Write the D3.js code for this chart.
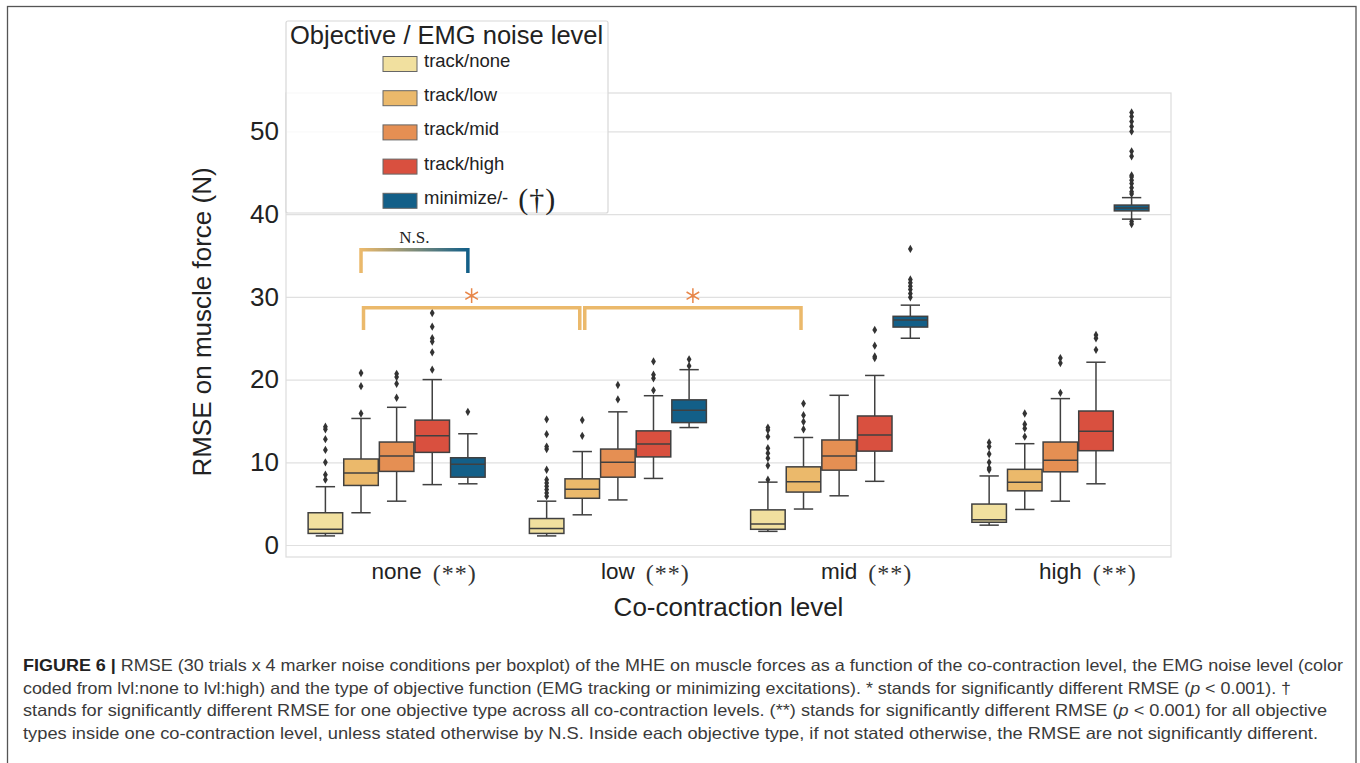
<!DOCTYPE html>
<html>
<head>
<meta charset="utf-8">
<script src="https://cdn.jsdelivr.net/npm/d3@7"></script>
<style>
  body { margin: 0; background: #fff; }
  svg { display: block; font-family: "Liberation Sans", Arial, sans-serif; }
</style>
</head>
<body>
<svg id="chart" width="1360" height="763"></svg>
<script>
// ---- data ----
const levels = ["none", "low", "mid", "high"];
const series = ["track/none", "track/low", "track/mid", "track/high", "minimize/-"];
const colors = ["#f1e09f", "#ebb96b", "#e58f53", "#d9503f", "#135f88"];
const yTicks = [0, 10, 20, 30, 40, 50];

// [lower whisker, q1, median, q3, upper whisker] for none / low / mid / high
const trackNoneBox = [[1.1, 1.4, 1.9, 3.9, 7.05], [1.1, 1.4, 2.0, 3.2, 5.3], [1.65, 1.9, 2.55, 4.25, 7.6], [2.4, 2.75, 3.05, 4.95, 8.35]];
const trackLowBox = [[3.9, 7.2, 8.7, 10.4, 15.3], [3.65, 5.65, 6.75, 8.0, 11.3], [4.35, 6.4, 7.65, 9.45, 13.0], [4.3, 6.55, 7.6, 9.15, 12.25]];
const trackMidBox = [[5.3, 8.9, 10.75, 12.45, 16.65], [5.45, 8.2, 10.0, 11.6, 16.1], [5.95, 9.05, 10.75, 12.7, 18.1], [5.3, 8.85, 10.25, 12.45, 17.7]];
const trackHighBox = [[7.3, 11.2, 13.2, 15.1, 20.0], [8.05, 10.65, 12.2, 13.8, 18.05], [7.7, 11.35, 13.3, 15.6, 20.5], [7.4, 11.4, 13.75, 16.2, 22.1]];
const minimizeBox = [[7.4, 8.2, 9.75, 10.55, 13.45], [14.2, 14.8, 16.3, 17.55, 21.2], [25.0, 26.35, 27.2, 27.65, 29.0], [39.4, 40.4, 40.75, 41.1, 42.0]];

const trackNoneOut = [[14.3, 14.0, 12.8, 11.5, 10.0, 8.5, 7.9], [15.2, 13.4, 11.9, 11.6, 9.1, 7.9, 7.5, 7.1, 6.7, 6.3, 5.9], [14.2, 13.9, 13.1, 11.7, 11.1, 10.5, 9.6, 7.9], [12.4, 11.9, 11.0, 10.0, 9.3, 9.1]];
const trackLowOut = [[20.8, 19.2, 15.9], [15.1, 13.2], [17.1, 15.7, 14.9, 14.0], [15.9, 14.6, 14.1, 13.1]];
const trackMidOut = [[20.7, 20.3, 19.5, 17.8], [19.35, 17.6], [], [22.6, 22.0, 18.4]];
const trackHighOut = [[28.05, 26.4, 25.0, 24.6, 23.3, 21.2], [22.2, 20.6, 20.15, 18.7], [26.0, 24.1, 22.8, 22.6], [25.4, 25.0, 23.6]];
const minimizeOut = [[16.1], [22.45, 21.65], [35.8, 32.1, 31.7, 31.3, 30.9, 30.4, 29.95], [52.3, 51.8, 51.2, 50.6, 50.0, 47.6, 47.0, 44.7, 44.5, 44.1, 43.7, 43.2, 42.7, 42.45, 39.1, 38.8]];

const boxes = [trackNoneBox, trackLowBox, trackMidBox, trackHighBox, minimizeBox];
const outliers = [trackNoneOut, trackLowOut, trackMidOut, trackHighOut, minimizeOut];

// significance brackets: [level, series] endpoints, heights in N
const brackets = [
  { from: ["none", "track/low"], to: ["none", "minimize/-"], top: 35.7, bottom: 32.9, label: "N.S." },
  { from: ["none", "track/low"], to: ["low", "track/low"], top: 28.7, bottom: 26.0, label: "*" },
  { from: ["low", "track/low"], to: ["mid", "track/low"], top: 28.7, bottom: 26.0, label: "*" }
];

const captionLines = [
  [["FIGURE 6 | ", "b"], ["RMSE (30 trials x 4 marker noise conditions per boxplot) of the MHE on muscle forces as a function of the co-contraction level, the EMG noise level (color", ""]],
  [["coded from lvl:none to lvl:high) and the type of objective function (EMG tracking or minimizing excitations). * stands for significantly different RMSE (", ""], ["p", "i"], [" < 0.001). \u2020", ""]],
  [["stands for significantly different RMSE for one objective type across all co-contraction levels. (**) stands for significantly different RMSE (", ""], ["p", "i"], [" < 0.001) for all objective", ""]],
  [["types inside one co-contraction level, unless stated otherwise by N.S. Inside each objective type, if not stated otherwise, the RMSE are not significantly different.", ""]]
];
const captionWidths = [1320, 1268, 1304, 1295];

// ---- layout ----
const svg = d3.select("#chart");
const plotLeft = 286, plotRight = 1171, plotTop = 93, plotBottom = 557;

// outer frame
svg.append("rect")
  .attr("x", 7.5).attr("y", 6.5).attr("width", 1348.5).attr("height", 800)
  .attr("fill", "none").attr("stroke", "#555").attr("stroke-width", 1.3);

const x0 = d3.scaleBand().domain(levels).range([plotLeft, plotRight]);
const x1 = d3.scaleBand().domain(series)
  .range([x0.bandwidth() * 0.1, x0.bandwidth() * 0.9])
  .paddingInner(0.03);
const y = d3.scaleLinear().domain([-1.45, 54.65]).range([plotBottom, plotTop]);

const cx = (lvl, s) => x0(lvl) + x1(s) + x1.bandwidth() / 2;

// grid
svg.append("g")
  .attr("transform", `translate(${plotLeft},0)`)
  .call(d3.axisLeft(y).tickValues(yTicks).tickSize(-(plotRight - plotLeft)).tickFormat(""))
  .call(g => g.select(".domain").remove())
  .selectAll("line").attr("stroke", "#e0e0e0").attr("stroke-width", 1.2);

svg.append("rect")
  .attr("x", plotLeft).attr("y", plotTop).attr("width", plotRight - plotLeft).attr("height", plotBottom - plotTop)
  .attr("fill", "none").attr("stroke", "#dcdcdc").attr("stroke-width", 1.2);

// y axis labels
svg.append("g")
  .attr("transform", `translate(${plotLeft},0)`)
  .call(d3.axisLeft(y).tickValues(yTicks).tickSize(0).tickPadding(7))
  .call(g => g.select(".domain").remove())
  .selectAll("text")
  .attr("font-family", "Liberation Sans, Arial, sans-serif")
  .attr("font-size", 26).attr("fill", "#222");

svg.append("text")
  .attr("transform", `translate(211,${(plotTop + plotBottom) / 2 - 3}) rotate(-90)`)
  .attr("text-anchor", "middle")
  .attr("font-size", 26).attr("fill", "#222")
  .text("RMSE on muscle force (N)");

// x axis labels
const xAxis = svg.append("g")
  .attr("transform", `translate(0,${plotBottom})`)
  .call(d3.axisBottom(x0).tickSize(0).tickPadding(6))
  .call(g => g.select(".domain").remove());
xAxis.selectAll("text")
  .attr("font-family", "Liberation Sans, Arial, sans-serif")
  .attr("font-size", 22.5).attr("fill", "#222");
xAxis.selectAll(".tick").each(function() {
  const t = d3.select(this).select("text");
  const w = t.node().getComputedTextLength();
  const ty = +t.attr("y");
  d3.select(this).append("text")
    .attr("x", w / 2 + 11).attr("y", ty)
    .attr("dy", "0.74em")
    .attr("text-anchor", "start")
    .attr("font-family", "Liberation Serif, Times New Roman, serif")
    .attr("font-size", 24).attr("letter-spacing", 1)
    .attr("fill", "#333")
    .text("(**)");
});

svg.append("text")
  .attr("x", (plotLeft + plotRight) / 2).attr("y", 616)
  .attr("text-anchor", "middle")
  .attr("font-size", 26).attr("fill", "#222")
  .text("Co-contraction level");

// boxes
const edge = "#404040";
const bw = x1.bandwidth();
series.forEach((s, si) => {
  levels.forEach((lvl, li) => {
    const [lo, q1, med, q3, hi] = boxes[si][li];
    const c = cx(lvl, s);
    const g = svg.append("g");
    g.append("line").attr("x1", c).attr("x2", c).attr("y1", y(q3)).attr("y2", y(hi))
      .attr("stroke", edge).attr("stroke-width", 1.5);
    g.append("line").attr("x1", c).attr("x2", c).attr("y1", y(q1)).attr("y2", y(lo))
      .attr("stroke", edge).attr("stroke-width", 1.5);
    [lo, hi].forEach(v => {
      g.append("line").attr("x1", c - bw * 0.28).attr("x2", c + bw * 0.28)
        .attr("y1", y(v)).attr("y2", y(v))
        .attr("stroke", edge).attr("stroke-width", 1.5);
    });
    g.append("rect")
      .attr("x", c - bw / 2).attr("width", bw)
      .attr("y", y(q3)).attr("height", y(q1) - y(q3))
      .attr("fill", colors[si]).attr("stroke", edge).attr("stroke-width", 1.5);
    g.append("line").attr("x1", c - bw / 2).attr("x2", c + bw / 2)
      .attr("y1", y(med)).attr("y2", y(med))
      .attr("stroke", edge).attr("stroke-width", 1.5);
    g.selectAll("path.out")
      .data(outliers[si][li])
      .enter().append("path")
      .attr("class", "out")
      .attr("transform", d => `translate(${c},${y(d)})`)
      .attr("d", d3.symbol(d3.symbolDiamond, 20))
      .attr("fill", "#333");
  });
});

// brackets
const defs = svg.append("defs");
brackets.forEach((b, i) => {
  const inset = b.label === "*" ? 2.5 : 0;
  const xa = cx(...b.from) + inset;
  const xb = cx(...b.to) - inset;
  let stroke = colors[1];
  if (b.label === "N.S.") {
    const grad = defs.append("linearGradient")
      .attr("id", "nsGrad" + i)
      .attr("gradientUnits", "userSpaceOnUse")
      .attr("x1", xa).attr("x2", xb).attr("y1", 0).attr("y2", 0);
    grad.append("stop").attr("offset", "0%").attr("stop-color", colors[1]);
    grad.append("stop").attr("offset", "100%").attr("stop-color", colors[4]);
    stroke = `url(#nsGrad${i})`;
  }
  svg.append("path")
    .attr("d", d3.line()([[xa, y(b.bottom)], [xa, y(b.top)], [xb, y(b.top)], [xb, y(b.bottom)]]))
    .attr("fill", "none")
    .attr("stroke", stroke)
    .attr("stroke-width", 3.5)
    .attr("stroke-linejoin", "miter");
  const mid = (xa + xb) / 2;
  if (b.label === "*") {
    svg.append("path")
      .attr("transform", `translate(${mid},${y(b.top) - 12})`)
      .attr("d", d3.symbol(d3.symbolAsterisk, 150))
      .attr("fill", "none").attr("stroke", "#e8874a").attr("stroke-width", 1.5);
  } else {
    svg.append("text")
      .attr("x", mid).attr("y", y(b.top) - 7)
      .attr("text-anchor", "middle")
      .attr("font-family", "Liberation Serif, Times New Roman, serif")
      .attr("font-size", 17).attr("fill", "#222")
      .text(b.label);
  }
});

// legend
const lg = svg.append("g");
lg.append("rect")
  .attr("x", 286).attr("y", 21).attr("width", 322).attr("height", 192).attr("rx", 2)
  .attr("fill", "#fff").attr("fill-opacity", 0.82)
  .attr("stroke", "#d8d8d8").attr("stroke-width", 1.2);
lg.append("text")
  .attr("x", 290).attr("y", 43.5)
  .attr("font-size", 25.5).attr("fill", "#222")
  .text("Objective / EMG noise level");
series.forEach((s, i) => {
  const yc = 64 + i * 34.2;
  lg.append("rect")
    .attr("x", 383).attr("y", yc - 7.5).attr("width", 34).attr("height", 15)
    .attr("fill", colors[i]).attr("stroke", "#666").attr("stroke-width", 1);
  const t = lg.append("text")
    .attr("x", 424).attr("y", yc + 3)
    .attr("font-size", 18.5).attr("fill", "#222")
    .text(s);
  if (s === "minimize/-") {
    const w = t.node().getComputedTextLength();
    lg.append("text")
      .attr("x", 424 + w + 10).attr("y", yc + 8)
      .attr("font-family", "Liberation Serif, Times New Roman, serif")
      .attr("font-size", 30).attr("letter-spacing", 1).attr("fill", "#222")
      .text("(\u2020)");
  }
});

// caption
captionLines.forEach((line, i) => {
  const t = svg.append("text")
    .attr("x", 23).attr("y", 671 + i * 22.6)
    .attr("font-size", 16.5).attr("fill", "#3a3a3a")
    .attr("textLength", captionWidths[i])
    .attr("lengthAdjust", "spacingAndGlyphs");
  line.forEach(([txt, st]) => {
    const ts = t.append("tspan").text(txt);
    if (st === "b") ts.attr("font-weight", "bold").attr("fill", "#222");
    if (st === "i") ts.attr("font-style", "italic");
  });
});
</script>
</body>
</html>
